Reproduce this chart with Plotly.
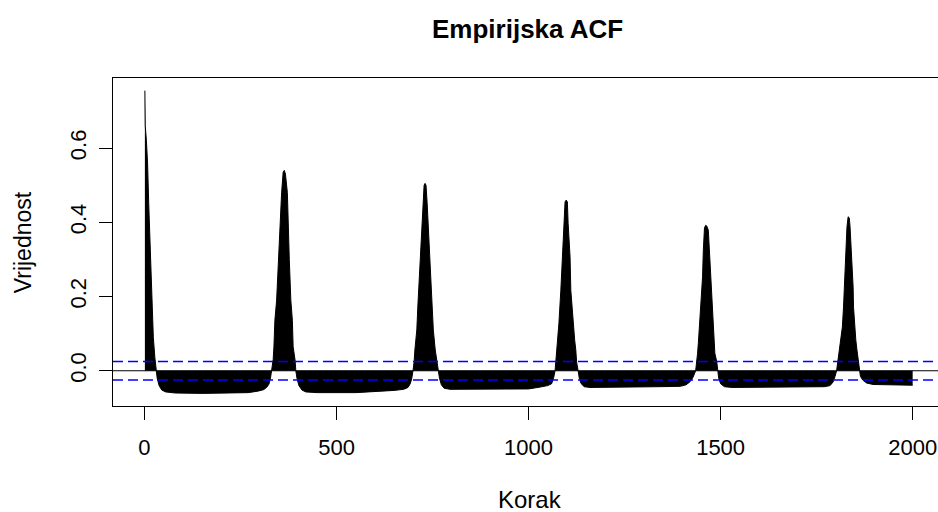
import plotly.graph_objects as go

# Lags and ACF values
lags = [1, 2, 5, 8, 11, 15, 19, 23, 27, 30,
        33, 38, 45, 55, 80, 150, 220, 270, 295, 310, 318, 324, 328, 331,
        335, 337, 339.5, 344, 348, 353, 357, 361, 364, 367, 372, 374, 377, 381, 385, 387, 392, 394,
        397, 402, 410, 420, 450, 550, 600, 650, 675, 686, 692, 696, 699,
        702, 704, 709, 712, 716, 720, 724, 728, 730.5, 733, 736, 740, 745, 749, 752, 757, 761, 765,
        768, 773, 780, 795, 900, 1000, 1030, 1050, 1060, 1065, 1069,
        1071, 1073, 1075, 1079, 1084, 1088, 1092, 1095, 1098, 1101, 1103, 1108, 1110, 1116, 1120, 1123, 1125, 1129,
        1132, 1137, 1145, 1160, 1300, 1335, 1395, 1410, 1420, 1428, 1435,
        1438, 1440, 1442, 1445, 1449, 1453, 1455, 1458, 1461, 1464, 1468, 1471, 1474, 1477, 1481, 1484, 1485, 1490, 1492,
        1495, 1500, 1510, 1530, 1700, 1770, 1785, 1793, 1798, 1802,
        1805, 1809, 1814, 1817, 1820, 1822, 1824, 1826, 1829, 1832, 1835, 1837, 1840, 1843, 1845, 1846, 1849, 1852, 1855, 1859, 1861,
        1864, 1870, 1880, 1897, 1950, 2000]
acf = [0.755, 0.66, 0.62, 0.56, 0.45, 0.32, 0.19, 0.09, 0.035, 0.0,
       -0.02, -0.04, -0.052, -0.057, -0.06, -0.061, -0.061, -0.059, -0.055, -0.051, -0.045, -0.036, -0.02, 0.0,
       0.03, 0.065, 0.136, 0.19, 0.30, 0.39, 0.48, 0.535, 0.54, 0.53, 0.48, 0.39, 0.30, 0.19, 0.136, 0.065, 0.029, 0.0,
       -0.02, -0.04, -0.052, -0.057, -0.059, -0.059, -0.057, -0.053, -0.05, -0.045, -0.035, -0.02, 0.0,
       0.024, 0.056, 0.11, 0.18, 0.27, 0.36, 0.45, 0.50, 0.505, 0.50, 0.45, 0.36, 0.27, 0.18, 0.11, 0.056, 0.024, 0.0,
       -0.02, -0.038, -0.047, -0.05, -0.05, -0.049, -0.044, -0.04, -0.035, -0.02, 0.0,
       0.024, 0.056, 0.083, 0.128, 0.217, 0.307, 0.397, 0.455, 0.46, 0.455, 0.397, 0.307, 0.217, 0.128, 0.083, 0.056, 0.024, 0.0,
       -0.02, -0.035, -0.043, -0.045, -0.045, -0.043, -0.042, -0.038, -0.03, -0.018, 0.0,
       0.024, 0.047, 0.074, 0.128, 0.199, 0.253, 0.325, 0.385, 0.392, 0.39, 0.379, 0.325, 0.253, 0.199, 0.128, 0.074, 0.047, 0.024, 0.0,
       -0.02, -0.035, -0.043, -0.045, -0.045, -0.043, -0.04, -0.03, -0.015, 0.0,
       0.024, 0.056, 0.083, 0.118, 0.172, 0.226, 0.28, 0.334, 0.388, 0.415, 0.412, 0.388, 0.334, 0.28, 0.226, 0.172, 0.118, 0.083, 0.056, 0.024, 0.0,
       -0.015, -0.025, -0.033, -0.037, -0.038, -0.039]

conf_bound = 0.0247
x_ticks = [0, 500, 1000, 1500, 2000]
y_ticks = [0.0, 0.2, 0.4, 0.6]
y_tick_text = ["0.0", "0.2", "0.4", "0.6"]

W, H = 938, 512
L, R, T, B = 113, 0, 77.5, 512 - 406
pw, ph = W - L - R, H - T - B
FONT = "Liberation Sans, Arial, sans-serif"

def px_x(p):
    return (p - L) / pw

def px_y(p):
    return (H - B - p) / ph

fig = go.Figure()
fig.add_trace(go.Scatter(x=lags, y=acf, mode="lines",
                         line=dict(color="black", width=1),
                         fill="tozeroy", fillcolor="black",
                         hoverinfo="x+y", showlegend=False))

fig.add_shape(type="line", xref="paper", yref="y", x0=0, x1=1, y0=0, y1=0,
              line=dict(color="black", width=1))
for s in (1, -1):
    fig.add_shape(type="line", xref="paper", yref="y", x0=0, x1=1,
                  y0=s * conf_bound, y1=s * conf_bound,
                  line=dict(color="#0000FF", width=1.5, dash="10px,5px"))

fig.add_annotation(text="<b>Empirijska ACF</b>", xref="paper", yref="paper",
                   x=px_x(527), y=px_y(28), showarrow=False,
                   xanchor="center", yanchor="middle",
                   font=dict(family=FONT, size=26, color="black"))
fig.add_annotation(text="Korak", xref="paper", yref="paper",
                   x=px_x(530), y=px_y(500), showarrow=False,
                   xanchor="center", yanchor="middle",
                   font=dict(family=FONT, size=24, color="black"))
fig.add_annotation(text="Vrijednost", xref="paper", yref="paper",
                   x=px_x(23), y=px_y(242), showarrow=False, textangle=-90,
                   xanchor="center", yanchor="middle",
                   font=dict(family=FONT, size=23, color="black"))

fig.update_layout(
    width=W, height=H,
    margin=dict(l=L, r=R, t=T, b=B, pad=0),
    paper_bgcolor="white", plot_bgcolor="white",
    font=dict(family=FONT, size=22, color="black"),
    xaxis=dict(range=[-82, 2066], showline=True, linecolor="black", linewidth=1,
               mirror=True, ticks="outside", ticklen=13, tickcolor="black",
               tickvals=x_ticks, showgrid=False, zeroline=False,
               ticklabelstandoff=9, ticklabeloverflow="allow",
               tickfont=dict(family=FONT, size=22, color="black")),
    yaxis=dict(range=[-0.095, 0.789], showline=True, linecolor="black", linewidth=1,
               mirror=False, ticks="outside", ticklen=13, tickcolor="black",
               tickvals=y_ticks, ticktext=y_tick_text, tickangle=-90,
               showgrid=False, zeroline=False, ticklabelstandoff=4,
               tickfont=dict(family=FONT, size=22, color="black")),
)

fig.write_html("out.html",
               config={"displayModeBar": False},
               post_script="document.body.style.margin='0';"
                           "document.body.style.overflow='hidden';")
